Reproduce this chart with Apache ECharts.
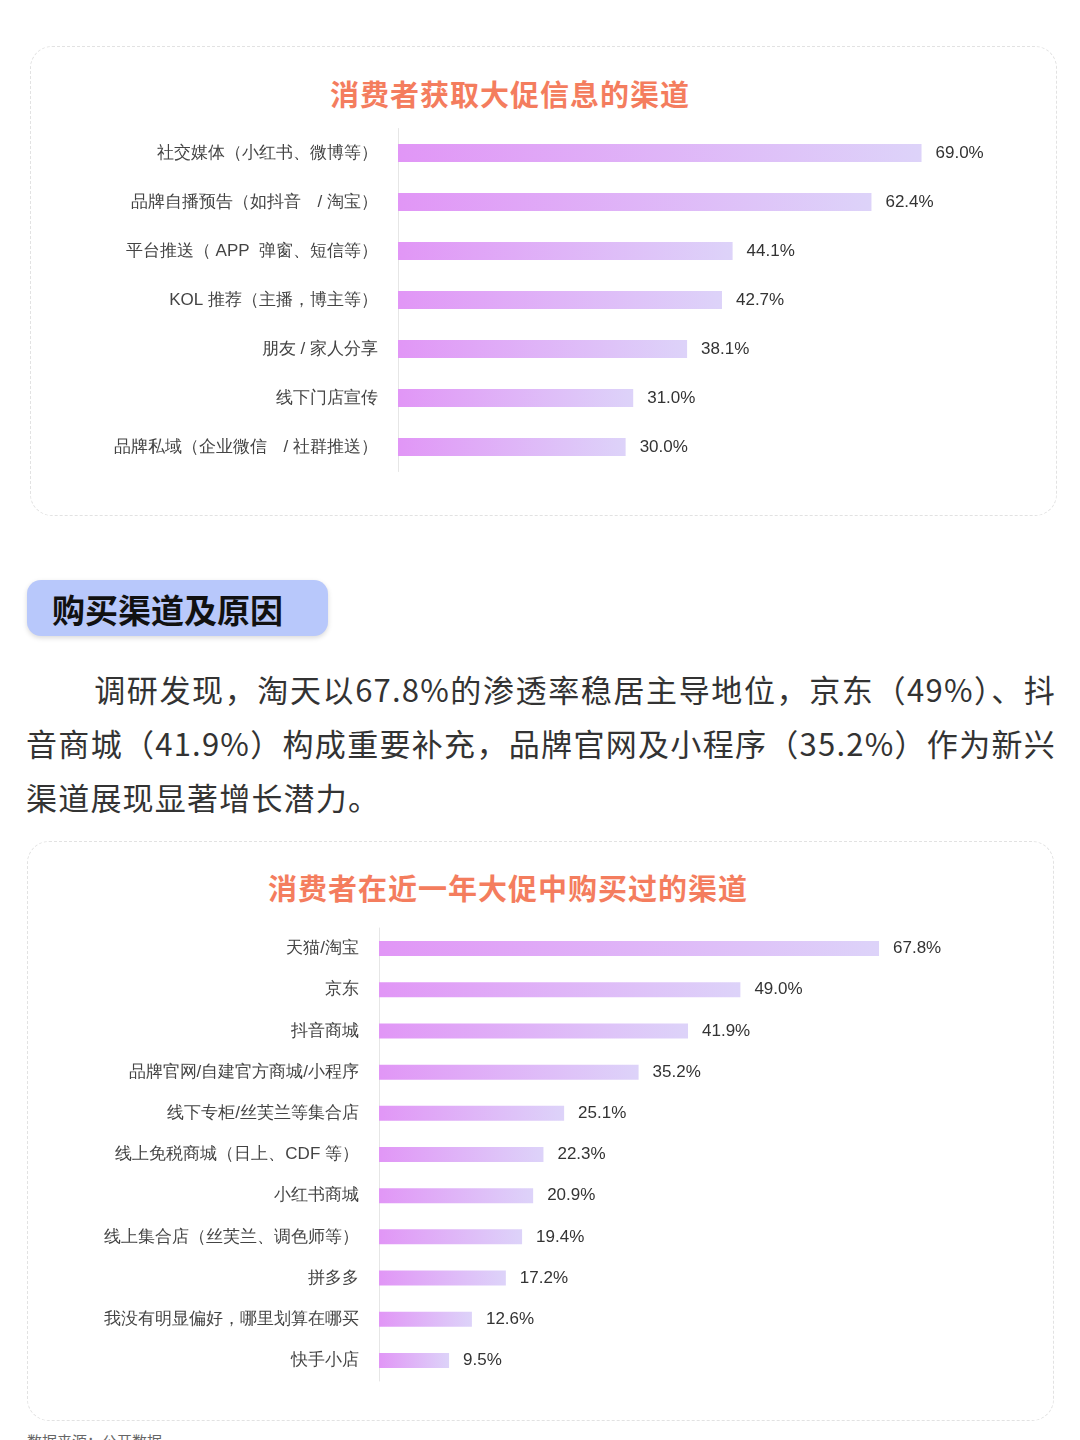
<!DOCTYPE html>
<html><head><meta charset="utf-8">
<script src="https://cdn.jsdelivr.net/npm/echarts@6/dist/echarts.min.js"></script>
<style>
body{margin:0;background:#fff;font-family:"Noto Sans CJK SC",sans-serif;}
#page{position:relative;width:1080px;height:1440px;overflow:hidden;}
.box{position:absolute;border:1.5px dashed #e2e2e2;border-radius:22px;}
.ttl{position:absolute;left:0;width:1080px;text-align:center;color:#f47d5e;font-weight:bold;font-size:29px;letter-spacing:1px;}
#pill{position:absolute;left:27px;top:580px;width:301px;height:56px;background:#b8c8fb;border-radius:14px;box-shadow:0 2px 5px rgba(0,0,0,0.15);}
#pill span{position:absolute;left:25px;top:5px;font-size:33px;font-weight:bold;color:#111;}
#para{position:absolute;left:26px;top:662px;width:1030px;font-size:31px;line-height:54px;color:#333;text-indent:2.2em;letter-spacing:1.2px;text-align:justify;}
#src{position:absolute;left:27px;top:1430px;font-size:15px;color:#666;}
#chart{position:absolute;left:0;top:0;width:1080px;height:1440px;}
</style></head>
<body><div id="page">
<div class="box" style="left:30px;top:46px;width:1025px;height:468px"></div>
<div class="ttl" style="top:72px;left:-30px">消费者获取大促信息的渠道</div>
<div id="pill"><span>购买渠道及原因</span></div>
<div id="para">调研发现，淘天以67.8%的渗透率稳居主导地位，京东（49%）、抖音商城（41.9%）构成重要补充，品牌官网及小程序（35.2%）作为新兴渠道展现显著增长潜力。</div>
<div class="box" style="left:27px;top:841px;width:1025px;height:578px"></div>
<div class="ttl" style="top:866px;left:-32px">消费者在近一年大促中购买过的渠道</div>
<div id="src">数据来源：公开数据</div>
<div id="chart"></div>
</div>
<script>
// 信息渠道
var infoCats = ['社交媒体（小红书、微博等）','品牌自播预告（如抖音　/ 淘宝）','平台推送（ APP  弹窗、短信等）','KOL 推荐（主播，博主等）','朋友 / 家人分享','线下门店宣传','品牌私域（企业微信　/ 社群推送）'];
var infoVals = [69.0, 62.4, 44.1, 42.7, 38.1, 31.0, 30.0];
// 购买渠道
var buyCats = ['天猫/淘宝','京东','抖音商城','品牌官网/自建官方商城/小程序','线下专柜/丝芙兰等集合店','线上免税商城（日上、CDF 等）','小红书商城','线上集合店（丝芙兰、调色师等）','拼多多','我没有明显偏好，哪里划算在哪买','快手小店'];
var buyVals = [67.8, 49.0, 41.9, 35.2, 25.1, 22.3, 20.9, 19.4, 17.2, 12.6, 9.5];

var grad = new echarts.graphic.LinearGradient(0,0,1,0,[{offset:0,color:'#e196f6'},{offset:1,color:'#ddd3f9'}]);
function yAx(i, cats){
  return {type:'category',gridIndex:i,data:cats,inverse:true,
    axisLine:{lineStyle:{color:'#e6e6e6'}},axisTick:{show:false},
    axisLabel:{color:'#444',fontSize:17,margin:20}};
}
function xAx(i, w){
  return {type:'value',gridIndex:i,min:0,max:80,show:false};
}
function ser(i, vals, bw){
  return {type:'bar',xAxisIndex:i,yAxisIndex:i,data:vals,barWidth:bw,
    itemStyle:{color:grad},
    label:{show:true,position:'right',distance:14,color:'#333',fontSize:17,formatter:function(p){return p.value.toFixed(1)+'%';}}};
}
var myChart = echarts.init(document.getElementById('chart'));
myChart.setOption({
  animation:false,
  grid:[{left:398,top:128.5,height:343,width:607},{left:379,top:928,height:453,width:590}],
  xAxis:[xAx(0),xAx(1)],
  yAxis:[yAx(0,infoCats),yAx(1,buyCats)],
  series:[ser(0,infoVals,18),ser(1,buyVals,15)]
});
</script>
</body></html>
